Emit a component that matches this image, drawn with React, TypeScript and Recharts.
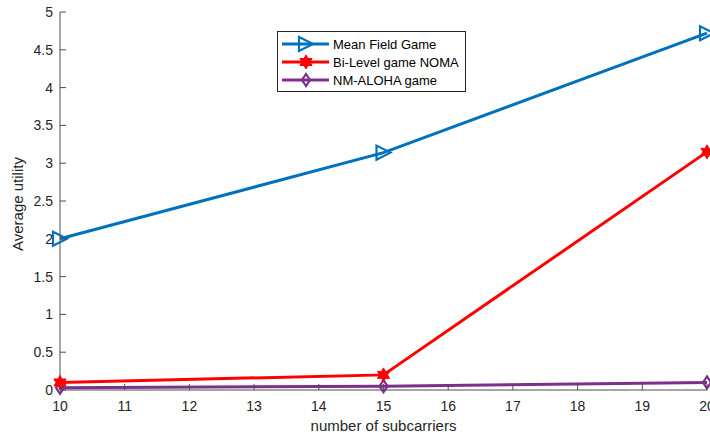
import React from "react";
import { Line, LineChart, XAxis, YAxis } from "recharts";

const subcarriers = [10, 15, 20];
const meanField = [2.0, 3.14, 4.72];
const biLevel = [0.1, 0.2, 3.15];
const nmAloha = [0.03, 0.05, 0.1];
const xTicks = [10, 11, 12, 13, 14, 15, 16, 17, 18, 19, 20];
const yTicks = [0, 0.5, 1, 1.5, 2, 2.5, 3, 3.5, 4, 4.5, 5];

const BLUE = "#0072BD";
const RED = "#FF0000";
const PURPLE = "#7E2F8E";
const AXIS = "#4d4d4d";
const FONT = "'Liberation Sans', Arial, sans-serif";

const LEFT = 60;
const RIGHT = 707;
const TOP = 12;
const BOTTOM = 390;

const data = subcarriers.map((n, i) => ({
  n,
  mfg: meanField[i],
  bilevel: biLevel[i],
  aloha: nmAloha[i],
}));

const Triangle = (props: any) => {
  const { cx, cy } = props;
  if (cx == null || cy == null) return null;
  const s = 7;
  return (
    <polygon
      points={`${cx - s},${cy - s} ${cx + s},${cy} ${cx - s},${cy + s}`}
      fill="none"
      stroke={BLUE}
      strokeWidth={2.2}
    />
  );
};

const starPoints = (cx: number, cy: number, ro: number, ri: number) => {
  const pts: string[] = [];
  for (let k = 0; k < 12; k++) {
    const r = k % 2 === 0 ? ro : ri;
    const a = (Math.PI / 6) * k - Math.PI / 2;
    pts.push(`${cx + r * Math.cos(a)},${cy + r * Math.sin(a)}`);
  }
  return pts.join(" ");
};

const Star = (props: any) => {
  const { cx, cy } = props;
  if (cx == null || cy == null) return null;
  return <polygon points={starPoints(cx, cy, 7, 4)} fill={RED} stroke={RED} strokeWidth={1} />;
};

const Diamond = (props: any) => {
  const { cx, cy } = props;
  if (cx == null || cy == null) return null;
  return (
    <polygon
      points={`${cx},${cy - 6} ${cx + 4},${cy} ${cx},${cy + 6} ${cx - 4},${cy}`}
      fill="none"
      stroke={PURPLE}
      strokeWidth={2.2}
    />
  );
};

const BottomTick = (props: any) => {
  const { x, payload } = props;
  return (
    <g>
      <line x1={x} y1={BOTTOM} x2={x} y2={BOTTOM - 6} stroke={AXIS} />
      <text x={x} y={BOTTOM + 21} textAnchor="middle" fontSize={14} fill="#262626" fontFamily={FONT}>
        {payload.value}
      </text>
    </g>
  );
};

const TopTick = (props: any) => {
  const { x } = props;
  return <line x1={x} y1={TOP} x2={x} y2={TOP + 6} stroke={AXIS} />;
};

const LeftTick = (props: any) => {
  const { y, payload } = props;
  return (
    <g>
      <line x1={LEFT} y1={y} x2={LEFT + 6} y2={y} stroke={AXIS} />
      <text x={LEFT - 7} y={y + 5} textAnchor="end" fontSize={14} fill="#262626" fontFamily={FONT}>
        {payload.value}
      </text>
    </g>
  );
};

const RightTick = (props: any) => {
  const { y } = props;
  return <line x1={RIGHT} y1={y} x2={RIGHT - 6} y2={y} stroke={AXIS} />;
};

const legendItems = [
  { name: "Mean Field Game", color: BLUE, Marker: Triangle },
  { name: "Bi-Level game NOMA", color: RED, Marker: Star },
  { name: "NM-ALOHA game", color: PURPLE, Marker: Diamond },
];

const LegendBox = () => (
  <svg width={190} height={62} style={{ position: "absolute", left: 277, top: 31 }}>
    <rect x={0.5} y={0.5} width={188} height={60} fill="#fff" stroke="#262626" />
    {legendItems.map((it, i) => {
      const y = 13 + i * 18;
      return (
        <g key={it.name}>
          <line x1={5} y1={y} x2={52} y2={y} stroke={it.color} strokeWidth={3} />
          <it.Marker cx={29} cy={y} />
          <text x={56} y={y + 4.5} fontSize={13} fill="#000" fontFamily={FONT}>
            {it.name}
          </text>
        </g>
      );
    })}
  </svg>
);

export default function App() {
  return (
    <div style={{ position: "absolute", left: 0, top: 0, width: 710, height: 435, background: "#fff" }}>
      <LineChart
        width={710}
        height={435}
        data={data}
        margin={{ top: TOP, right: 710 - RIGHT, left: 0, bottom: 0 }}
      >
        <XAxis
          xAxisId="b"
          dataKey="n"
          type="number"
          domain={[10, 20]}
          ticks={xTicks}
          height={435 - BOTTOM}
          axisLine={{ stroke: AXIS }}
          tickLine={false}
          tickSize={0}
          tick={<BottomTick />}
          interval={0}
          label={{ value: "number of subcarriers", position: "insideBottom", offset: 0, fill: "#262626", fontSize: 15, fontFamily: FONT, dy: -4 }}
        />
        <XAxis
          xAxisId="t"
          orientation="top"
          dataKey="n"
          type="number"
          domain={[10, 20]}
          ticks={xTicks}
          height={0}
          axisLine={{ stroke: AXIS }}
          tickLine={false}
          tickSize={0}
          tick={<TopTick />}
          interval={0}
        />
        <YAxis
          yAxisId="l"
          type="number"
          domain={[0, 5]}
          ticks={yTicks}
          width={LEFT}
          axisLine={{ stroke: AXIS }}
          tickLine={false}
          tickSize={0}
          tick={<LeftTick />}
          interval={0}
          label={{ value: "Average utility", angle: -90, position: "insideLeft", fill: "#262626", fontSize: 15, fontFamily: FONT, dx: 13, dy: 50 }}
        />
        <YAxis
          yAxisId="r"
          orientation="right"
          type="number"
          domain={[0, 5]}
          ticks={yTicks}
          width={0}
          axisLine={{ stroke: AXIS }}
          tickLine={false}
          tickSize={0}
          tick={<RightTick />}
          interval={0}
        />
        <Line xAxisId="b" yAxisId="l" dataKey="aloha" stroke={PURPLE} strokeWidth={3} dot={<Diamond />} activeDot={false} isAnimationActive={false} />
        <Line xAxisId="b" yAxisId="l" dataKey="bilevel" stroke={RED} strokeWidth={3} dot={<Star />} activeDot={false} isAnimationActive={false} />
        <Line xAxisId="b" yAxisId="l" dataKey="mfg" stroke={BLUE} strokeWidth={3} dot={<Triangle />} activeDot={false} isAnimationActive={false} />
      </LineChart>
      <LegendBox />
    </div>
  );
}
